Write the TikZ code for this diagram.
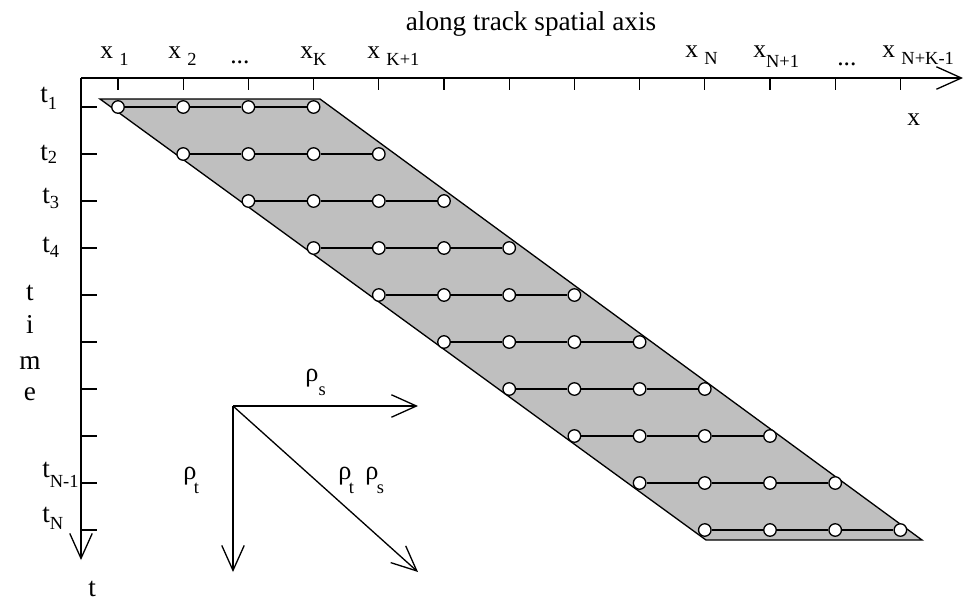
\documentclass[tikz,border=0pt]{standalone}
\usepackage{fontspec}
\setmainfont{Liberation Serif}
\usetikzlibrary{arrows.meta,positioning}
\newcommand{\lsub}[2][4.5pt]{\raisebox{-#1}{\fontsize{10.5}{12}\selectfont #2}}
\tikzset{
  axisline/.style={black, line width=0.75pt},
  openhead/.style={-{Straight Barb[length=0.5cm,width=0.45cm]}},
  sample/.style={circle, draw=black, fill=white, line width=0.75pt, minimum size=0.25cm, inner sep=0pt},
  lbl/.style={anchor=base west, inner sep=0pt, font=\fontsize{14.5}{16}\selectfont},
  tlbl/.style={anchor=base west, inner sep=0pt, font=\fontsize{15.5}{18}\selectfont},
  rholbl/.style={anchor=base west, inner sep=0pt, font=\fontsize{15}{17}\selectfont},
}
\begin{document}
\begin{tikzpicture}[x=0.02cm,y=-0.02cm]
        % Define dimensions
        \def\xzero{118}
        \def\tzero{107}
        \def\xstep{65.2}
        \def\tstep{47}
        \useasboundingbox (0,0) rectangle (965,600);
        % Shaded band of samples
        \draw[fill=black!25, line width=0.75pt] (100,99) -- (320,99) -- (922,540) -- (706,540) -- cycle;
        % Axes
        \coordinate (origin) at (81,78);
        \coordinate (xend) at (963,78);
        \coordinate (tend) at (81,560);
        \draw[axisline,openhead] (origin) -- (xend);
        \draw[axisline,openhead] (origin) -- (tend);
        \foreach \c in {1,...,13}
            \draw[axisline] ({\xzero+(\c-1)*\xstep},78) -- ++(0,12);
        \foreach \r in {1,...,10}
            \draw[axisline] (81,{\tzero+(\r-1)*\tstep}) -- ++(16,0);
        % Sample rows
        \foreach \r in {1,...,10}{
            \foreach \k in {1,...,4}
                \node[sample] (s-\r-\k) at ({\xzero+(\r+\k-2)*\xstep},{\tzero+(\r-1)*\tstep}) {};
            \draw[axisline] (s-\r-1) -- (s-\r-2) (s-\r-2) -- (s-\r-3) (s-\r-3) -- (s-\r-4);
        }
        % Spatial axis labels
        \node[anchor=base, inner sep=0pt, font=\fontsize{15.5}{18}\selectfont] (title) at (531,30) {along track spatial axis};
        \node[lbl] (x1) at (100,58) {x\ \lsub{1}};
        \node[lbl] (x2) at (168,58) {x\ \lsub{2}};
        \node[lbl] (xdots1) at (230,63) {...};
        \node[lbl] (xK) at (300,58) {x\lsub{K}};
        \node[lbl] (xK1) at (367,58) {x\ \lsub{K+1}};
        \node[lbl] (xN) at (685,57) {x\ \lsub{N}};
        \node[lbl] (xN1) at (753,57) {x\lsub[6pt]{N+1}};
        \node[lbl] (xdots2) at (837,65) {...};
        \node[lbl] (xNK) at (882,57) {x\ \lsub{N+K-1}};
        \node[lbl] (xname) at (907,125) {x};
        % Time axis labels
        \node[tlbl] (t1) at (40,102) {t\lsub{1}};
        \node[tlbl] (t2) at (40,160) {t\lsub[2pt]{2}};
        \node[tlbl] (t3) at (42,203) {t\lsub[3pt]{3}};
        \node[tlbl] (t4) at (42,252) {t\lsub[3pt]{4}};
        \node[tlbl] (tN1) at (42,477) {t\lsub[6pt]{N-1}};
        \node[tlbl] (tN) at (42,522) {t\lsub[4.5pt]{N}};
        \foreach \ch/\yy in {t/300,i/333,m/369,e/400}
            \node[anchor=base, inner sep=0pt, font=\fontsize{15.5}{18}\selectfont] (time-\ch) at (30,\yy) {\ch};
        \node[tlbl] (tname) at (88,596) {t};
        % Correlation arrows
        \coordinate (rho0) at (233,406);
        \coordinate (rhos) at (418,406);
        \coordinate (rhot) at (233,572);
        \coordinate (rhots) at (418,572);
        \draw[axisline,openhead] (rho0) -- (rhos);
        \draw[axisline,openhead] (rho0) -- (rhot);
        \draw[axisline,openhead] (rho0) -- (rhots);
        \node[rholbl] (rs) at (305,381) {ρ\lsub[8pt]{s}};
        \node[rholbl] (rt) at (183,479) {ρ\kern-1.5pt\lsub[8pt]{t}};
        \node[rholbl] (rts) at (338,479) {ρ\kern-1.5pt\lsub[8pt]{t}\hspace{6.5pt}ρ\kern-1pt\lsub[8pt]{s}};
\end{tikzpicture}
\end{document}
